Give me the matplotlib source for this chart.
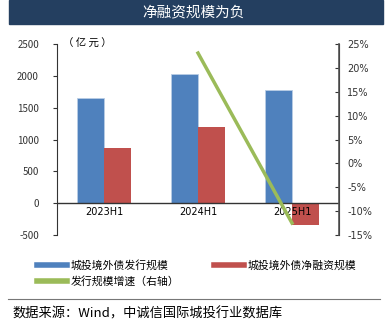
import matplotlib
matplotlib.use("Agg")
import matplotlib.pyplot as plt
import numpy as np
from matplotlib.patches import Rectangle
from matplotlib.lines import Line2D

plt.rcParams['font.family'] = ['Noto Sans CJK SC', 'DejaVu Sans']
plt.rcParams['axes.unicode_minus'] = False

# data
periods = ['2023H1', '2024H1', '2025H1']
issuance = [1650, 2025, 1775]          # 城投境外债发行规模 (亿元)
net_financing = [870, 1200, -340]      # 城投境外债净融资规模 (亿元)
growth = [np.nan, 23.1, -12.5]         # 发行规模增速 (%)

blue = '#4F81BD'
red = '#C0504D'
green = '#9BBB59'
navy = '#243F60'

fig = plt.figure(figsize=(3.88, 3.27), dpi=100)
W, H = 388, 327

# title banner
fig.patches.append(Rectangle((9 / W, 1 - 24 / H), 374 / W, 24 / H,
                             transform=fig.transFigure, color=navy, zorder=0))
fig.text(0.5, 1 - 12 / H, '净融资规模为负', color='white', fontsize=10.5,
         ha='center', va='center')

ax = fig.add_axes([57 / W, 1 - 235 / H, 282 / W, 191 / H])
x = np.arange(len(periods))
bw = 0.287
ax.bar(x - bw / 2, issuance, bw, color=blue, edgecolor='#B9CDE5', linewidth=0.6, zorder=2)
ax.bar(x + bw / 2, net_financing, bw, color=red, zorder=2)
ax.set_xlim(-0.5, 2.5)
ax.set_ylim(-500, 2500)
ax.set_yticks(range(-500, 2501, 500))
ax.axhline(0, color='#333333', linewidth=1, zorder=3)
ax.set_xticks([])
for xi, p in zip(x, periods):
    ax.text(xi, -60, p, ha='center', va='top', fontsize=7, family='DejaVu Sans', zorder=5)
for s in ['top', 'bottom']:
    ax.spines[s].set_visible(False)
ax.spines['left'].set_color('#333333')
ax.tick_params(axis='y', labelsize=7, length=3, width=0.8, colors='#333333', pad=10)
ax.text(0.02, 1.0, '（ 亿 元 ）', transform=ax.transAxes, fontsize=7.5, va='center', ha='left')

ax2 = ax.twinx()
ax2.plot(x, growth, color=green, linewidth=2.5, zorder=4)
ax2.set_ylim(-15, 25)
ax2.set_yticks(range(-15, 26, 5))
ax2.set_yticklabels(['%d%%' % v for v in range(-15, 26, 5)], family='DejaVu Sans')
for s in ['top', 'bottom', 'left']:
    ax2.spines[s].set_visible(False)
ax2.spines['right'].set_color('#555555')
ax2.spines['right'].set_linewidth(1.2)
ax2.tick_params(axis='y', labelsize=7, length=3, direction='in', colors='#333333', pad=6)

# legend
handles = [Line2D([], [], color=blue, linewidth=4),
           Line2D([], [], color=green, linewidth=4),
           Line2D([], [], color=red, linewidth=4)]
labels = ['城投境外债发行规模', '发行规模增速（右轴）', '城投境外债净融资规模']
fig.legend(handles, labels, ncol=2, loc='upper left', bbox_to_anchor=(37 / W, 1 - 260 / H),
           frameon=False, fontsize=7.8, handlelength=2.8, columnspacing=3.2,
           handletextpad=0.3, labelspacing=0.45, borderaxespad=0, borderpad=0)

fig.add_artist(Line2D([8 / W, 380 / W], [1 - 299 / H, 1 - 299 / H],
                      transform=fig.transFigure, color='#777777', linewidth=0.8))
fig.text(12 / W, 1 - 314 / H, '数据来源：Wind，中诚信国际城投行业数据库', fontsize=9.5,
         va='center', ha='left')

fig.savefig('out.png', dpi=100)
